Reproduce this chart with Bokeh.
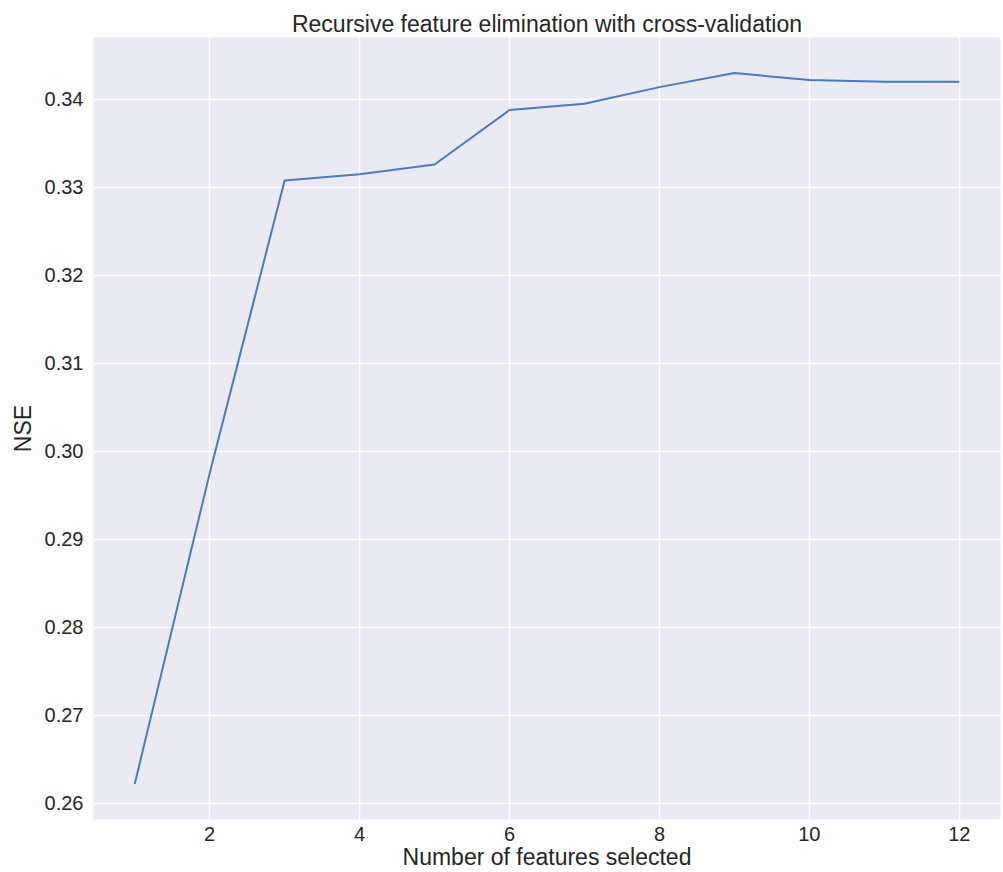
from bokeh.plotting import figure
from bokeh.embed import file_html
from bokeh.resources import INLINE
from bokeh.models import Range1d, FixedTicker, NumeralTickFormatter

n_features = [1, 2, 3, 4, 5, 6, 7, 8, 9, 10, 11, 12]
nse = [0.2622, 0.2975, 0.3308, 0.3315, 0.3326, 0.3388, 0.3395, 0.3414, 0.3430, 0.3422, 0.3420, 0.3420]
x_ticks = [2, 4, 6, 8, 10, 12]
y_ticks = [0.26, 0.27, 0.28, 0.29, 0.30, 0.31, 0.32, 0.33, 0.34]

FONT = "Liberation Sans"
TXT = "#262626"

xmin, xmax = min(n_features), max(n_features)
ymin, ymax = min(nse), max(nse)
xm = (xmax - xmin) * 0.05
ym = (ymax - ymin) * 0.05

p = figure(width=1003, height=872, output_backend="svg", toolbar_location=None,
           x_range=Range1d(xmin - xm, xmax + xm), y_range=Range1d(ymin - ym, ymax + ym),
           title="Recursive feature elimination with cross-validation",
           min_border_left=93, min_border_right=3, min_border_top=37, min_border_bottom=53)

p.background_fill_color = "#EAEAF2"
p.border_fill_color = "white"
p.outline_line_color = None

p.title.align = "center"
p.title.text_font = FONT
p.title.text_font_size = "23px"
p.title.text_font_style = "normal"
p.title.text_color = TXT
p.title.standoff = 2

p.line(n_features, nse, line_color="#4A7BBE", line_width=2)

for ax in (p.xaxis[0], p.yaxis[0]):
    ax.axis_line_color = None
    ax.major_tick_line_color = None
    ax.minor_tick_line_color = None
    ax.major_tick_out = 0
    ax.major_tick_in = 0
    ax.major_label_text_font = FONT
    ax.major_label_text_font_size = "20px"
    ax.major_label_text_color = TXT
    ax.axis_label_text_font = FONT
    ax.axis_label_text_font_size = "23px"
    ax.axis_label_text_font_style = "normal"
    ax.axis_label_text_color = TXT

p.xaxis.ticker = FixedTicker(ticks=x_ticks)
p.yaxis.ticker = FixedTicker(ticks=y_ticks)
p.yaxis.formatter = NumeralTickFormatter(format="0.00")
p.xaxis.axis_label = "Number of features selected"
p.yaxis.axis_label = "NSE"
p.xaxis.major_label_standoff = 7
p.yaxis.major_label_standoff = 10
p.xaxis.axis_label_standoff = 0
p.yaxis.axis_label_standoff = 6

p.grid.grid_line_color = "white"
p.grid.grid_line_width = 1.5

open("out.html", "w").write(file_html(p, INLINE))
